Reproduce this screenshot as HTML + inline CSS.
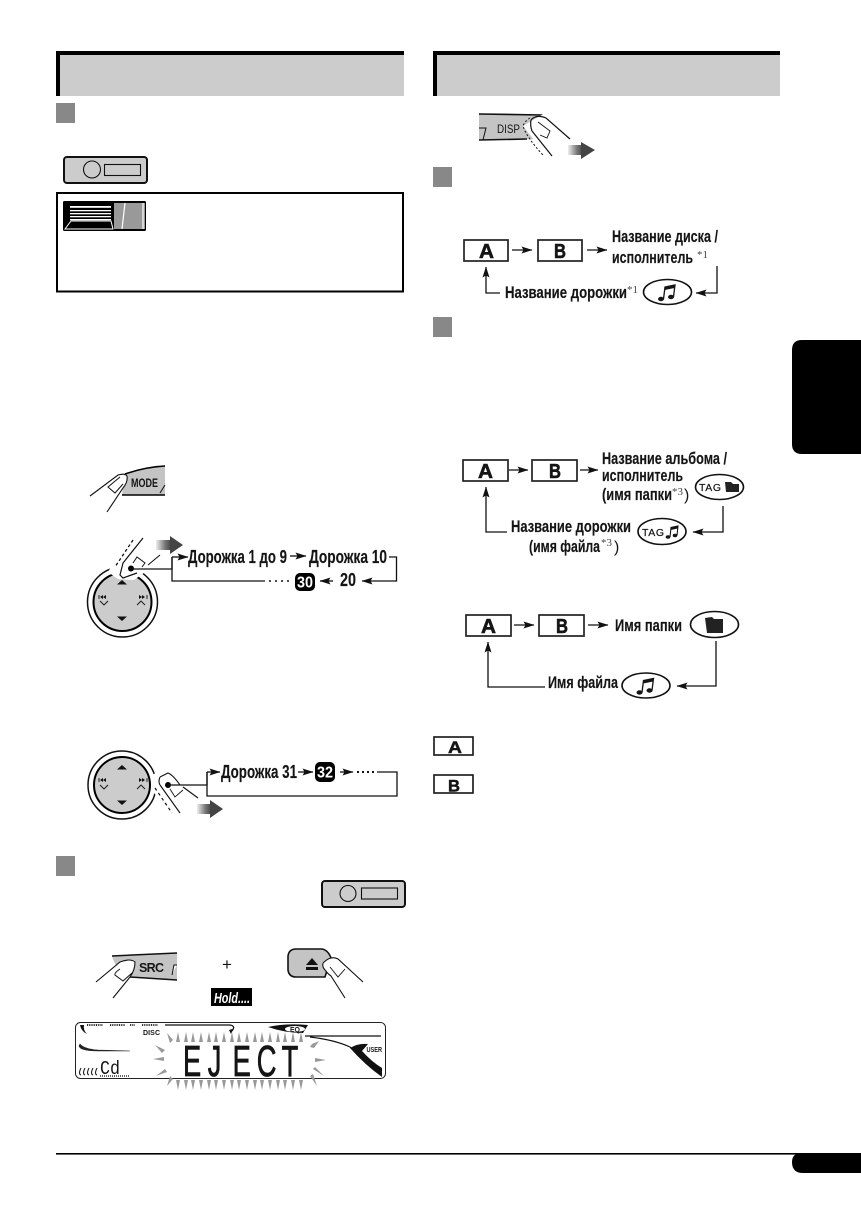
<!DOCTYPE html>
<html><head><meta charset="utf-8"><style>
html,body{margin:0;padding:0;background:#fff}
svg{display:block}
text{font-family:"Liberation Sans Narrow","Liberation Sans",sans-serif;font-weight:bold;fill:#151515}
.s{font-family:"Liberation Serif",serif;font-weight:normal;fill:#444;font-size:11px}
.w{fill:#fff}
.l{fill:none;stroke:#111;stroke-width:1.3}
.a{fill:none;stroke:#111;stroke-width:1.3;marker-end:url(#ah)}
.box{fill:#fff;stroke:#222;stroke-width:1.7}
.lt{font-family:"Liberation Sans",sans-serif;font-size:20px;font-weight:bold;stroke:#151515;stroke-width:.6}
.el{fill:#fff;stroke:#111;stroke-width:1.6}
.t{stroke:#151515;stroke-width:.15}
</style></head><body>
<svg width="861" height="1209" viewBox="0 0 861 1209" xmlns="http://www.w3.org/2000/svg">
<defs>
<marker id="ah" markerUnits="userSpaceOnUse" markerWidth="12" markerHeight="8" refX="10.500" refY="4" orient="auto"><path d="M0,0.500L11,4L0,7.500L2,4z" fill="#111"/></marker>
<linearGradient id="g"><stop offset="0" stop-color="#eee"/><stop offset="0.6" stop-color="#777"/><stop offset="1" stop-color="#444"/></linearGradient>
</defs>

<!-- headers -->
<path d="M56 51H404V96H56z" fill="#ccc"/><path d="M56 51H404V55H60V96H56z" fill="#000"/>
<path d="M433 51H780V96H433z" fill="#ccc"/><path d="M433 51H780V55H437V96H433z" fill="#000"/>

<!-- squares -->
<g fill="#888">
<rect x="56" y="103" width="19" height="20"/>
<rect x="56" y="856" width="19" height="20"/>
<rect x="433" y="167" width="19" height="20"/>
<rect x="433" y="317" width="19" height="20"/>
</g>

<!-- device icons -->
<g fill="none" stroke="#111">
<rect x="64" y="157" width="83" height="26" rx="3" fill="#ccc" stroke-width="2"/>
<circle cx="92" cy="169.500" r="8.500" stroke-width="1.100"/>
<rect x="104.500" y="164.500" width="36" height="11" stroke-width="1.100"/>
<rect x="322" y="881" width="83" height="26" rx="3" fill="#ccc" stroke-width="2"/>
<circle cx="348" cy="893.500" r="8" stroke-width="1.100"/>
<rect x="361.500" y="888" width="36" height="11" stroke-width="1.100"/>
</g>

<!-- box with faceplate -->
<rect x="57" y="193" width="346" height="98.500" fill="#fff" stroke="#000" stroke-width="2"/>
<rect x="63" y="201" width="83" height="30" rx="1.500" fill="#000"/>
<rect x="114" y="203" width="31" height="26" fill="#999"/>
<path d="M125 203L122 229M143 203V229" stroke="#fff" stroke-width="1.200" fill="none"/>
<g fill="#fff"><rect x="70" y="206" width="41" height="1.800"/><rect x="70" y="210" width="41" height="1.300"/><rect x="70" y="213" width="41" height="1.300"/><rect x="70" y="216" width="41" height="1.300"/><rect x="70" y="219" width="41" height="1.300"/></g>
<path d="M65 229L71 221H111L113 229Z" fill="none" stroke="#fff" stroke-width="1"/>

<!-- MODE button -->
<path d="M125 474Q145 467 165 466V495H122Z" fill="#c4c4c4"/>
<path d="M125 474Q145 467 165 466M122 495H165" fill="none" stroke="#000" stroke-width="1.500"/>
<path d="M165 485L160 493" stroke="#111" stroke-width="1"/>
<path d="M90 496L118 475Q125 473 127 476Q128 482 123 488L107 512" fill="#fff" stroke="#111" stroke-width="1.100"/>
<path d="M120 477L108 487L115 493L123 484" fill="none" stroke="#111"/>
<text x="131" y="487" font-size="11.500" textLength="27" lengthAdjust="spacingAndGlyphs">MODE</text>

<!-- Wheel 1 -->
<circle cx="122.500" cy="602" r="35" fill="#fff" stroke="#111" stroke-width="1.500"/>
<circle cx="122.500" cy="602" r="29" fill="#ccc" stroke="#000" stroke-width="2"/>
<path d="M122 580l-5 4.500h10zM122 621l-5 -4.500h10zM100 597l3-2v4zM103 597l3-2v4zM145 597l-3-2v4zM142 597l-3-2v4z" fill="#111"/>
<path d="M99 595v4M147 595v4M100 601l4 4 4-4M137 605l4-4 4 4" fill="none" stroke="#111" stroke-width=".9"/>
<path d="M112 565L130 540L143 545L162 552L148 570L134 580L118 579L108 572Z" fill="#fff"/>
<path d="M143 538L123 563L120 575L123 578L137 573" fill="none" stroke="#111" stroke-width="1.200"/>
<path d="M133 540L115 567" fill="none" stroke="#111" stroke-width="1.300" stroke-dasharray="3 2.500"/>
<path d="M133 563L137 557L145 563L142 567" fill="none" stroke="#111" stroke-width="1"/>
<path d="M160 555L148 565" stroke="#111" stroke-width="1.100"/>
<circle cx="131" cy="568.500" r="3" fill="#000"/>
<path d="M131 569H172V557" class="l"/>
<path d="M172 557H188" class="a"/>
<path d="M172 557V581H265" class="l"/>
<rect x="156" y="540" width="15" height="10" fill="url(#g)"/><polygon points="170,536 183,545 170,554" fill="#444"/>
<text class="t" x="188" y="563" font-size="18" textLength="99" lengthAdjust="spacingAndGlyphs">Дорожка 1 до 9</text>
<path d="M290 556H306" class="a"/>
<text class="t" x="309" y="563" font-size="18" textLength="78" lengthAdjust="spacingAndGlyphs">Дорожка 10</text>
<path d="M389 557H396.500V581H362" class="a"/>
<text class="t" x="340" y="586" font-size="18" textLength="16" lengthAdjust="spacingAndGlyphs">20</text>
<path d="M333 581H320" class="a"/>
<rect x="295" y="573" width="20" height="18" rx="5" fill="#000"/>
<text x="297" y="587.500" font-size="16" class="w" textLength="16" lengthAdjust="spacingAndGlyphs">30</text>
<path d="M269 581H291" stroke="#111" stroke-width="1.500" stroke-dasharray="2 4" fill="none"/>

<!-- Wheel 2 -->
<circle cx="122" cy="785" r="34" fill="#fff" stroke="#111" stroke-width="1.500"/>
<circle cx="122" cy="785" r="28" fill="#ccc" stroke="#000" stroke-width="2"/>
<path d="M122 765l-5 4.500h10zM122 805l-5 -4.500h10zM100 780l3-2v4zM103 780l3-2v4zM145 780l-3-2v4zM142 780l-3-2v4z" fill="#111"/>
<path d="M99 778v4M147 778v4M100 785l4 4 4-4M137 789l4-4 4 4" fill="none" stroke="#111" stroke-width=".9"/>
<path d="M152 775L160 771L176 778L182 790L182 815L170 815L152 790Z" fill="#fff"/>
<path d="M160 777L168 773Q173 775 180 785M160 785L180 813" fill="none" stroke="#111" stroke-width="1.100"/>
<path d="M160 777Q158 782 160 785" fill="none" stroke="#111" stroke-width="1.100"/>
<path d="M155 788L172 813" fill="none" stroke="#111" stroke-width="1.200" stroke-dasharray="3 3"/>
<path d="M183 787L198 798" stroke="#111" stroke-width="1.100"/>
<path d="M170 789L175 797L183 790" fill="none" stroke="#111" stroke-width=".9"/>
<circle cx="168" cy="785" r="3" fill="#000"/>
<path d="M168 785H207V772" class="l"/>
<path d="M207 772H220" class="a"/>
<path d="M207 772V796H397V772H377" class="l"/>
<rect x="197" y="804" width="14" height="10" fill="url(#g)"/><polygon points="210,800 223,809 210,818" fill="#444"/>
<text class="t" x="221" y="778" font-size="18" textLength="76" lengthAdjust="spacingAndGlyphs">Дорожка 31</text>
<path d="M298 772H313" class="a"/>
<rect x="315" y="762" width="20" height="20" rx="5" fill="#000"/>
<text x="317" y="777.500" font-size="16" class="w" textLength="16" lengthAdjust="spacingAndGlyphs">32</text>
<path d="M340 772H353" class="a"/>
<path d="M357 772H377" stroke="#111" stroke-width="2" stroke-dasharray="2 3" fill="none"/>

<!-- SRC -->
<path d="M112 956L177 953V980L130 977Q118 975 112 956Z" fill="#c4c4c4"/>
<path d="M112 956L177 953M130 977L177 980" fill="none" stroke="#111" stroke-width="1.500"/>
<path d="M177 965H174L172 975" fill="#fff" stroke="#111"/>
<path d="M96 982L120 962Q130 958 135 962Q135 970 130 977L113 998" fill="#fff" stroke="#111" stroke-width="1.100"/>
<path d="M120 969Q114 973 115 975L123 981L132 973" fill="none" stroke="#111"/>
<text x="139" y="972" font-size="12.500" style="font-family:'Liberation Sans',sans-serif" textLength="25">SRC</text>
<text x="222" y="970" font-size="17" style="font-weight:normal;font-family:'Liberation Sans',sans-serif">+</text>
<rect x="211" y="988" width="41" height="18" fill="#000"/>
<text x="214" y="1003" font-size="15" class="w" font-style="italic" textLength="36" lengthAdjust="spacingAndGlyphs">Hold....</text>
<!-- Eject -->
<path d="M288 956Q289 949 296 949H322Q328 950 331 958L325 977H296Q289 977 288 970Z" fill="#c4c4c4" stroke="#111" stroke-width="1.600"/>
<path d="M306 965L312 958L318 965ZM306 967H318V970H306Z" fill="#111"/>
<path d="M322 963Q331 955 338 959L363 982L345 998L331 976Q325 972 322 963Z" fill="#fff"/>
<path d="M323 963Q331 955 338 959L363 982M325 970Q328 974 331 976L345 998M323 963Q322 967 325 970" fill="none" stroke="#111" stroke-width="1.100"/>
<path d="M330 967L338 977L345 969" fill="none" stroke="#111" stroke-width=".9"/>

<!-- LCD -->
<rect x="75.500" y="1022.500" width="310" height="56" rx="5" fill="#fff" stroke="#222" stroke-width="1"/>
<path d="M87 1025H103M110 1025H125M130 1025H135M142 1025H158" stroke="#333" stroke-width="2" stroke-dasharray="1 .8"/>
<path d="M165 1025H230Q236 1026 232 1031" fill="none" stroke="#111" stroke-width="1.200"/>
<path d="M229 1030Q236 1028 234 1027L231 1034Z" fill="#111"/>
<path d="M80 1025Q81 1031 87 1034Q83 1030 84 1025Z" fill="#111"/>
<text x="143" y="1035" font-size="7" style="font-family:'Liberation Sans',sans-serif" textLength="17">DISC</text>
<path d="M268 1027Q285 1023 308 1025L303 1033Q285 1033 268 1027Z" fill="#111"/>
<ellipse cx="295" cy="1029" rx="10" ry="3" fill="#fff"/>
<text x="290" y="1032" font-size="7" textLength="10" style="font-family:'Liberation Sans',sans-serif">EQ</text>
<path d="M305 1036H381M310 1037Q335 1040 350 1047Q365 1060 382 1070" fill="none" stroke="#111" stroke-width="1.200"/>
<path d="M350 1048Q358 1043 368 1044L362 1051Q372 1062 382 1068V1077Q365 1065 350 1048Z" fill="#111"/>
<text x="366.500" y="1052" font-size="7" style="font-family:'Liberation Sans',sans-serif" textLength="15.500" lengthAdjust="spacingAndGlyphs">USER</text>
<path d="M80 1044Q84 1049 98 1050L130 1051H98Q80 1051 79 1046Z" fill="#222" stroke="#222" stroke-width=".6"/>
<path d="M81 1068Q78 1074 81 1075M85 1068Q82 1074 85 1075M89 1068Q86 1074 89 1075M93 1068Q90 1074 93 1075M97 1068Q94 1074 97 1075" fill="none" stroke="#222" stroke-width="1.100"/>
<text x="100" y="1074" font-size="19" style="font-weight:normal;font-family:'Liberation Mono',monospace" textLength="20" lengthAdjust="spacingAndGlyphs">Cd</text>
<path d="M100 1076H129" stroke="#333" stroke-width="1.500" stroke-dasharray="1 1"/>
<text transform="translate(183,1076) scale(.62,1)" x="0 40 80 119 159" y="0" font-size="44" style="font-weight:normal;font-family:'Liberation Sans',sans-serif;stroke:#151515;stroke-width:.8">EJECT</text>
<g fill="#999">
<path d="M176 1042l2-10 2 10z"/>
<path d="M184 1042l2-10 2 10zM191 1042l2-10 2 10zM199 1042l2-10 2 10zM207 1042l2-10 2 10zM214 1042l2-10 2 10zM222 1042l2-10 2 10zM230 1042l2-10 2 10zM237 1042l2-10 2 10zM245 1042l2-10 2 10zM253 1042l2-10 2 10zM260 1042l2-10 2 10zM268 1042l2-10 2 10zM276 1042l2-10 2 10zM283 1042l2-10 2 10zM291 1042l2-10 2 10zM299 1042l2-10 2 10z"/>
<path d="M176 1080l2 10 2-10zM184 1080l2 10 2-10zM191 1080l2 10 2-10zM199 1080l2 10 2-10zM207 1080l2 10 2-10zM214 1080l2 10 2-10zM222 1080l2 10 2-10zM230 1080l2 10 2-10zM237 1080l2 10 2-10zM245 1080l2 10 2-10zM253 1080l2 10 2-10zM260 1080l2 10 2-10zM268 1080l2 10 2-10zM276 1080l2 10 2-10zM283 1080l2 10 2-10zM291 1080l2 10 2-10zM299 1080l2 10 2-10z"/>
<path d="M167 1033l3 10 3-3zM310 1047l2-3 7-3-5 7zM155 1045l10 5-3 3zM153 1059l11-2v4zM315 1058l11 2-11 2zM156 1076l9-7 2 3zM313 1069l2-2 9 9zM167 1086l3-10 3 3zM310 1076l3-2 4 12z"/>
</g>

<!-- DISP -->
<path d="M479 114L545 116V139L479 140Z" fill="#c4c4c4"/>
<path d="M479 114L543 115M479 140L527 139" fill="none" stroke="#111" stroke-width="1.600"/>
<path d="M479 128H486L483 140" fill="none" stroke="#111"/>
<text x="497" y="133" font-size="11.500" style="font-weight:normal;font-family:'Liberation Sans',sans-serif" textLength="23" lengthAdjust="spacingAndGlyphs">DISP</text>
<path d="M523 126L545 113L570 139L552 156L534 140Z" fill="#fff"/>
<path d="M530 118Q525 121 523 126Q527 138 543 155" fill="none" stroke="#111" stroke-dasharray="2 2"/>
<path d="M531 120Q536 114 546 118L570 139M532 131L552 156M531 120Q530 126 532 131" fill="none" stroke="#111" stroke-width="1.200"/>
<path d="M538 122L550 131L547 138L540 135" fill="none" stroke="#111" stroke-width=".9"/>
<rect x="568" y="145" width="15" height="10" fill="url(#g)"/><polygon points="581,142 595,150 581,159" fill="#444"/>

<!-- Diagram 1 -->
<rect class="box" x="464" y="240" width="44" height="21"/><text class="lt" x="479" y="258" textLength="15" lengthAdjust="spacingAndGlyphs">A</text>
<rect class="box" x="538" y="240" width="44" height="21"/><text class="lt" x="554" y="258" textLength="12" lengthAdjust="spacingAndGlyphs">B</text>
<path d="M512 250H532" class="a"/><path d="M587 250H607" class="a"/>
<text class="t" x="612" y="242" font-size="16.500" textLength="106" lengthAdjust="spacingAndGlyphs">Название диска /</text>
<text class="t" x="612" y="263" font-size="16.500" textLength="81" lengthAdjust="spacingAndGlyphs">исполнитель</text>
<text class="s" x="697" y="258">*1</text>
<path d="M717 266V293H696" class="a"/>
<ellipse class="el" cx="667.500" cy="292" rx="24" ry="12.500"/>
<g fill="#151515" stroke="#151515"><ellipse cx="661" cy="299" rx="3" ry="2.200" stroke="none"/><ellipse cx="671" cy="297" rx="3" ry="2.200" stroke="none"/><path d="M663.500 299L665 287L675 285L673.500 297" fill="none" stroke-width="1.300"/><path d="M665 287L675 285L674.700 288L664.700 290Z" stroke="none"/></g>
<text class="t" x="505" y="298" font-size="16.500" textLength="122" lengthAdjust="spacingAndGlyphs">Название дорожки</text>
<text class="s" x="627" y="293">*1</text>
<path d="M500 293H486V267" class="a"/>

<!-- Diagram 2 -->
<rect class="box" x="463" y="460" width="45" height="21"/><text class="lt" x="478" y="478" textLength="15" lengthAdjust="spacingAndGlyphs">A</text>
<rect class="box" x="532" y="460" width="45" height="21"/><text class="lt" x="549" y="478" textLength="12" lengthAdjust="spacingAndGlyphs">B</text>
<path d="M509 470H528" class="a"/><path d="M580 470H598" class="a"/>
<text class="t" x="602" y="464" font-size="16.500" textLength="125" lengthAdjust="spacingAndGlyphs">Название альбома /</text>
<text class="t" x="602" y="481" font-size="16.500" textLength="81" lengthAdjust="spacingAndGlyphs">исполнитель</text>
<text class="t" x="602" y="500" font-size="16.500" textLength="70" lengthAdjust="spacingAndGlyphs">(имя папки</text><text class="s" x="672" y="495">*3</text><text x="684" y="500" font-size="16" style="font-weight:normal">)</text>
<ellipse class="el" cx="719.500" cy="487" rx="24" ry="12.500"/>
<text x="699" y="491" font-size="10.500" style="font-weight:normal;font-family:'Liberation Sans',sans-serif;stroke:#151515;stroke-width:.2" textLength="22">TAG</text>
<path d="M725 482L731 482L733 484H739V492H726Z" fill="#222"/>
<path d="M723 506V532H693" class="a"/>
<ellipse class="el" cx="662" cy="531.500" rx="24" ry="13"/>
<text x="642" y="536" font-size="10.500" style="font-weight:normal;font-family:'Liberation Sans',sans-serif;stroke:#151515;stroke-width:.2" textLength="22">TAG</text>
<g fill="#151515" stroke="#151515"><ellipse cx="668" cy="537" rx="2.300" ry="1.700" stroke="none"/><ellipse cx="675" cy="535.500" rx="2.300" ry="1.700" stroke="none"/><path d="M670 537L671 527.500L678 526L677 535.500" fill="none" stroke-width="1.100"/><path d="M671 527.500L678 526L677.800 528.500L670.800 530Z" stroke="none"/></g>
<text class="t" x="511" y="532" font-size="16.500" textLength="120" lengthAdjust="spacingAndGlyphs">Название дорожки</text>
<text class="t" x="529" y="552" font-size="16.500" textLength="71" lengthAdjust="spacingAndGlyphs">(имя файла</text><text class="s" x="601" y="546">*3</text><text x="614" y="552" font-size="16" style="font-weight:normal">)</text>
<path d="M507 532H486V487" class="a"/>

<!-- Diagram 3 -->
<rect class="box" x="466" y="615" width="45" height="21"/><text class="lt" x="481" y="633" textLength="15" lengthAdjust="spacingAndGlyphs">A</text>
<rect class="box" x="539" y="615" width="45" height="21"/><text class="lt" x="556" y="633" textLength="12" lengthAdjust="spacingAndGlyphs">B</text>
<path d="M514 625H534" class="a"/><path d="M588 625H608" class="a"/>
<text class="t" x="615" y="631" font-size="16.500" textLength="67" lengthAdjust="spacingAndGlyphs">Имя папки</text>
<ellipse class="el" cx="714.500" cy="624.500" rx="24" ry="13"/>
<path d="M705 618L712 617L714 619H723V633H707Z" fill="#222"/>
<path d="M716 641V686H677" class="a"/>
<ellipse class="el" cx="646" cy="685.500" rx="24" ry="12.500"/>
<g fill="#151515" stroke="#151515"><ellipse cx="639.500" cy="692.500" rx="3" ry="2.200" stroke="none"/><ellipse cx="649.500" cy="690.500" rx="3" ry="2.200" stroke="none"/><path d="M642 692.500L643.500 680.500L653.500 678.500L652 690.500" fill="none" stroke-width="1.300"/><path d="M643.500 680.500L653.500 678.500L653.200 681.500L643.200 683.500Z" stroke="none"/></g>
<text class="t" x="548" y="688" font-size="16.500" textLength="70" lengthAdjust="spacingAndGlyphs">Имя файла</text>
<path d="M545 687H488V642" class="a"/>

<!-- Legend -->
<rect class="box" x="434" y="737" width="39" height="18"/><text x="448" y="753" font-size="17" style="font-family:'Liberation Sans',sans-serif;stroke:#151515;stroke-width:.5" textLength="14" lengthAdjust="spacingAndGlyphs">A</text>
<rect class="box" x="434" y="775" width="39" height="18"/><text x="448" y="791.500" font-size="17" style="font-family:'Liberation Sans',sans-serif;stroke:#151515;stroke-width:.5" textLength="12" lengthAdjust="spacingAndGlyphs">B</text>

<!-- side tab & footer -->
<path d="M861 340H802Q792 340 792 350V444Q792 454 802 454H861Z" fill="#000"/>
<rect x="56" y="1153" width="805" height="1.600" fill="#000"/>
<path d="M861 1153H802Q792 1153 792 1162Q792 1173 803 1173H861Z" fill="#000"/>
</svg>
</body></html>
